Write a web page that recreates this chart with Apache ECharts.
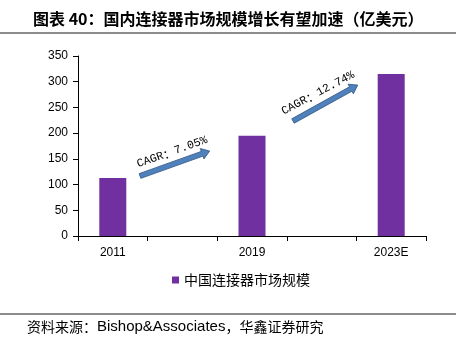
<!DOCTYPE html>
<html><head><meta charset="utf-8">
<script src="https://cdn.jsdelivr.net/npm/echarts@6/dist/echarts.min.js"></script>
<style>html,body{margin:0;padding:0;background:#fff}#c{width:456px;height:346px}</style>
</head><body><div id="c"></div>
<script>
const categories = ['2011', '', '2019', '', '2023E'];
const marketSize = [113, null, 195, null, 315];
const seriesName = '中国连接器市场规模';
const yTicks = { min: 0, max: 350, interval: 50 };
const cagrValues = ['7.05%', '12.74%'];

const chart = echarts.init(document.getElementById('c'));
function arrow(x, y, len, ang) {
  const L = len, h = 8;
  return {
    type: 'polygon', x: x, y: y, rotation: ang * Math.PI / 180,
    shape: { points: [[0,-2.5],[L-h,-2.5],[L-h,-5.5],[L,0],[L-h,5.5],[L-h,2.5],[0,2.5]] },
    style: { fill: '#4f81bd', stroke: '#385d8a', lineWidth: 0.8 }, z: 10
  };
}
function label(val, x, y, ang) {
  return {
    type: 'text', x: x, y: y, rotation: ang * Math.PI / 180,
    style: {
      text: '{a|CAGR}{b|：}{a|' + val + '}', align: 'center', verticalAlign: 'middle',
      rich: {
        a: { fontFamily: 'Liberation Mono', fontSize: 11.5, fill: '#000', color: '#000' },
        b: { fontFamily: 'Noto Sans CJK SC', fontSize: 12, fill: '#000', color: '#000' }
      }
    }, z: 10
  };
}
chart.setOption({
  animation: false,
  title: {
    text: '图表 40：国内连接器市场规模增长有望加速（亿美元）',
    left: 28, top: 6,
    textStyle: { fontFamily: 'Noto Sans CJK SC', fontSize: 16, fontWeight: 'bold', color: '#000' }
  },
  grid: { left: 78, right: 30, top: 56, bottom: 110 },
  legend: {
    data: [seriesName], bottom: 54, left: 167,
    itemWidth: 7, itemHeight: 7, itemGap: 4, icon: 'rect',
    textStyle: { fontFamily: 'Noto Sans CJK SC', fontSize: 14, color: '#000' }
  },
  xAxis: {
    type: 'category', data: categories,
    axisLine: { lineStyle: { color: '#000', width: 1 } },
    axisTick: { show: true, inside: false, length: 5, lineStyle: { color: '#000' }, interval: 0 },
    axisLabel: { interval: 0, color: '#000', fontFamily: 'Liberation Sans', fontSize: 12, margin: 11 }
  },
  yAxis: {
    type: 'value', min: yTicks.min, max: yTicks.max, interval: yTicks.interval,
    axisLine: { show: true, lineStyle: { color: '#000', width: 1 } },
    axisTick: { show: true, length: 5, lineStyle: { color: '#000' } },
    splitLine: { show: false },
    axisLabel: { color: '#000', fontFamily: 'Liberation Sans', fontSize: 12, margin: 10 }
  },
  series: [{
    name: seriesName, type: 'bar', data: marketSize, barWidth: 27,
    itemStyle: { color: '#7030a0' }
  }],
  graphic: [
    { type: 'line', shape: { x1: 0, y1: 33, x2: 456, y2: 33 }, style: { stroke: '#8c8c8c', lineWidth: 2 } },
    { type: 'line', shape: { x1: 0, y1: 314, x2: 456, y2: 314 }, style: { stroke: '#8c8c8c', lineWidth: 2 } },
    { type: 'text', x: 27, y: 327, style: {
        text: '{c|资料来源：}{l|Bishop&Associates}{c|，华鑫证券研究}', verticalAlign: 'middle',
        rich: {
          c: { fontFamily: 'Noto Sans CJK SC', fontSize: 14, fill: '#000', color: '#000' },
          l: { fontFamily: 'Liberation Sans', fontSize: 15, fill: '#000', color: '#000' }
        } } },
    arrow(140, 176, 74, 19.7),
    arrow(293, 121, 74, 29),
    label(cagrValues[0], 172, 152, 19.7),
    label(cagrValues[1], 318, 93, 28)
  ]
});
</script></body></html>
